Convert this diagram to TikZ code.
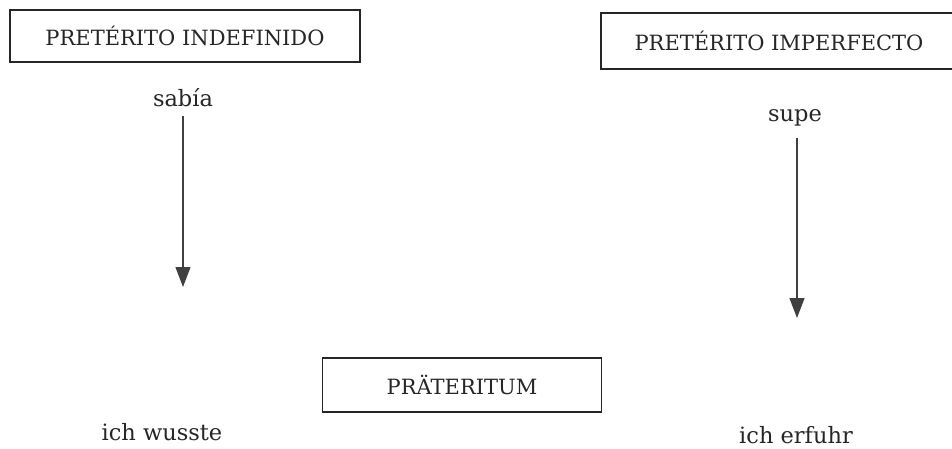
\documentclass[tikz,border=0pt]{standalone}
\usepackage{fontspec}
\setmainfont{DejaVu Serif}
\usetikzlibrary{arrows.meta}
\begin{document}
\begin{tikzpicture}[x=1pt,y=-1pt,
  lbl/.style={font=\fontsize{21}{24}\selectfont, text=black!85},
  sm/.style={lbl, font=\fontsize{22.5}{26}\selectfont, inner sep=1pt},
  boxlbl/.style={lbl, draw=black!85, line width=1.2pt, inner sep=0pt},
  arr/.style={draw=black!75, line width=1.2pt, -{Triangle[width=15pt,length=20pt]}}]
\useasboundingbox (0,0) rectangle (952,449);
\node[boxlbl, minimum width=350, minimum height=52] (ind) at (185,36) {PRETÉRITO INDEFINIDO};
\node[boxlbl, minimum width=356, minimum height=56] (imp) at (779,41) {PRETÉRITO IMPERFECTO};
\node[boxlbl, minimum width=279, minimum height=54] (pra) at (462,385) {PRÄTERITUM};
\node[sm] (sab) at (183,98) {sabía};
\node[sm] (sup) at (795,118) {supe};
\node[sm] (wus) at (162,432) {ich wusste};
\node[sm] (erf) at (796,435) {ich erfuhr};
\coordinate (la) at (183,287);
\coordinate (ra) at (797,318);
\draw[arr] ([yshift=-8pt]sab.south -| la) -- (la);
\draw[arr] ([yshift=-10pt]sup.south -| ra) -- (ra);
\end{tikzpicture}
\end{document}
